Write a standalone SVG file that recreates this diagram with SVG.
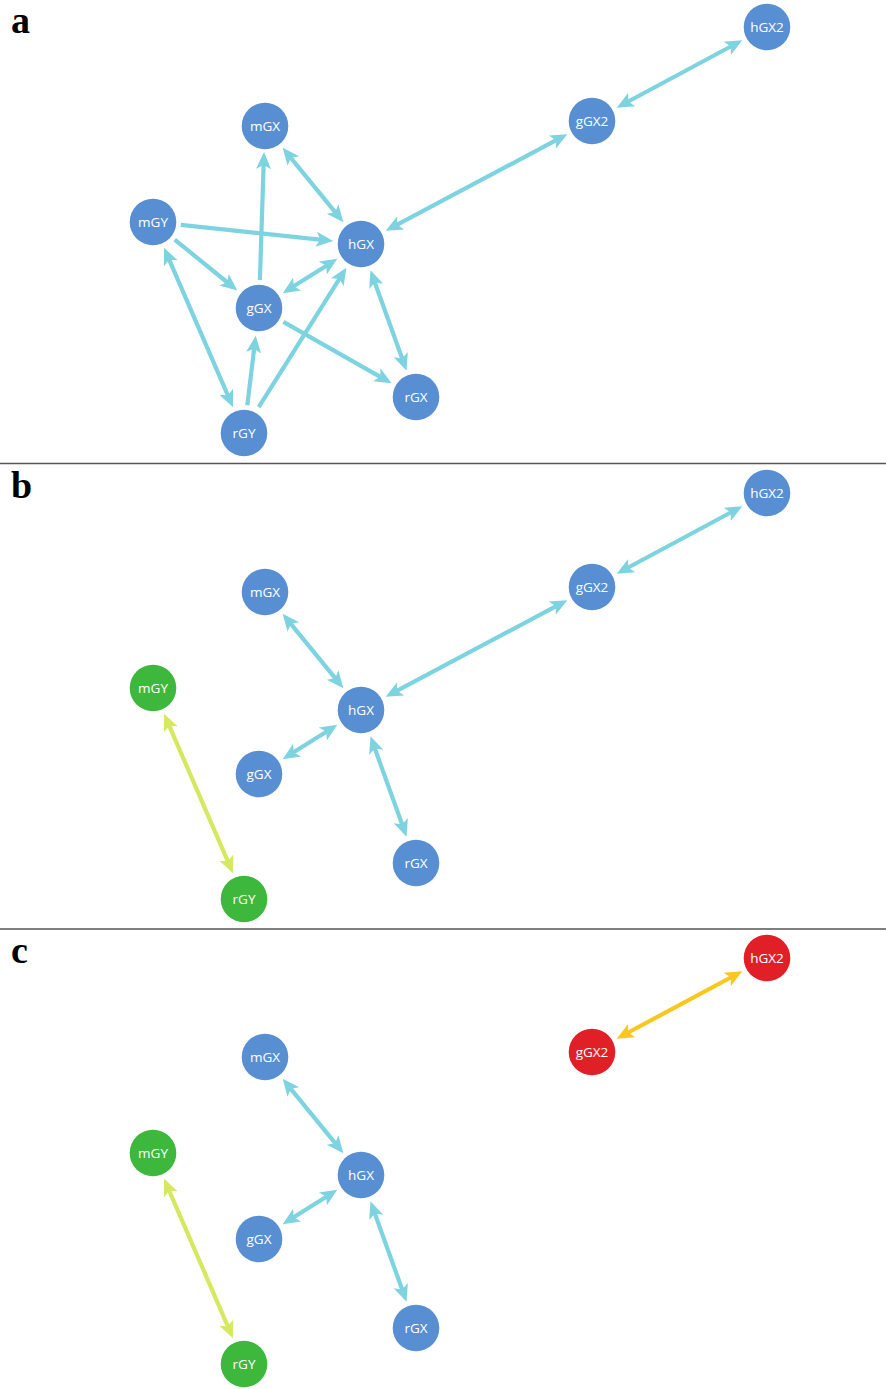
<svg xmlns="http://www.w3.org/2000/svg" width="886" height="1389" viewBox="0 0 886 1389">
<style>
.n circle{stroke:none}
.blue{fill:#588fd3}
.green{fill:#3db83d}
.red{fill:#e01f27}
.n text{fill:#ffffff;font-family:"Open Sans","Noto Sans",sans-serif;font-size:13.5px;text-anchor:middle}
.e line{stroke-width:4.2;fill:none}
.cy line{stroke:#7dd3e0}
.li line{stroke:#d5e860}
.ye line{stroke:#f8c81e}
.panel{font-family:"Liberation Serif","Times New Roman",serif;font-weight:bold;font-size:38px;fill:#000}
.div{stroke:#555;stroke-width:1.5}
</style>
<defs>
<marker id="ac" markerUnits="userSpaceOnUse" markerWidth="22" markerHeight="18" viewBox="0 -9 22 18" refX="6" refY="0" orient="auto-start-reverse"><path d="M17,0 L0,-7.5 L4,0 L0,7.5 Z" fill="#7dd3e0"/></marker>
<marker id="al" markerUnits="userSpaceOnUse" markerWidth="22" markerHeight="18" viewBox="0 -9 22 18" refX="6" refY="0" orient="auto-start-reverse"><path d="M17,0 L0,-7.5 L4,0 L0,7.5 Z" fill="#d5e860"/></marker>
<marker id="ay" markerUnits="userSpaceOnUse" markerWidth="22" markerHeight="18" viewBox="0 -9 22 18" refX="6" refY="0" orient="auto-start-reverse"><path d="M17,0 L0,-7.5 L4,0 L0,7.5 Z" fill="#f8c81e"/></marker>
</defs>
<rect x="0" y="0" width="886" height="1389" fill="#ffffff"/>
<line class="div" x1="0" y1="463.5" x2="886" y2="463.5"/>
<line class="div" x1="0" y1="929" x2="886" y2="929"/>
<text class="panel" x="11" y="33">a</text>
<text class="panel" x="11" y="498">b</text>
<text class="panel" x="11" y="963">c</text>

<g id="connectors-a" class="e cy">
<line x1="626.4" y1="102.5" x2="732.6" y2="45.5" marker-start="url(#ac)" marker-end="url(#ac)"/>
<line x1="395.4" y1="225.6" x2="557.6" y2="139.4" marker-start="url(#ac)" marker-end="url(#ac)"/>
<line x1="289.6" y1="156.3" x2="336.4" y2="213.7" marker-start="url(#ac)" marker-end="url(#ac)"/>
<line x1="180.8" y1="224.9" x2="322.2" y2="239.9" marker-end="url(#ac)"/>
<line x1="174.7" y1="239.6" x2="228.7" y2="283.5" marker-end="url(#ac)"/>
<line x1="168.4" y1="257.8" x2="228.6" y2="397.2" marker-start="url(#ac)" marker-end="url(#ac)"/>
<line x1="259.9" y1="280" x2="263.7" y2="163" marker-end="url(#ac)"/>
<line x1="292" y1="287.3" x2="328" y2="264.7" marker-start="url(#ac)" marker-end="url(#ac)"/>
<line x1="283.4" y1="321.8" x2="382" y2="377.8" marker-end="url(#ac)"/>
<line x1="247.3" y1="405.2" x2="254.4" y2="346.7" marker-end="url(#ac)"/>
<line x1="258.7" y1="407.2" x2="340.5" y2="277.1" marker-end="url(#ac)"/>
<line x1="374.2" y1="280.7" x2="402.8" y2="360.3" marker-start="url(#ac)" marker-end="url(#ac)"/>
</g>
<g id="connectors-b" transform="translate(0,466)">
<g class="e cy">
<line x1="626.4" y1="102.5" x2="732.6" y2="45.5" marker-start="url(#ac)" marker-end="url(#ac)"/>
<line x1="395.4" y1="225.6" x2="557.6" y2="139.4" marker-start="url(#ac)" marker-end="url(#ac)"/>
<line x1="289.6" y1="156.3" x2="336.4" y2="213.7" marker-start="url(#ac)" marker-end="url(#ac)"/>
<line x1="292" y1="287.3" x2="328" y2="264.7" marker-start="url(#ac)" marker-end="url(#ac)"/>
<line x1="374.2" y1="280.7" x2="402.8" y2="360.3" marker-start="url(#ac)" marker-end="url(#ac)"/>
</g>
<g class="e li">
<line x1="168.4" y1="257.8" x2="228.6" y2="397.2" marker-start="url(#al)" marker-end="url(#al)"/>
</g>
</g>
<g id="connectors-c" transform="translate(0,931)">
<g class="e ye">
<line x1="626.4" y1="102.5" x2="732.6" y2="45.5" marker-start="url(#ay)" marker-end="url(#ay)"/>
</g>
<g class="e cy">
<line x1="289.6" y1="156.3" x2="336.4" y2="213.7" marker-start="url(#ac)" marker-end="url(#ac)"/>
<line x1="292" y1="287.3" x2="328" y2="264.7" marker-start="url(#ac)" marker-end="url(#ac)"/>
<line x1="374.2" y1="280.7" x2="402.8" y2="360.3" marker-start="url(#ac)" marker-end="url(#ac)"/>
</g>
<g class="e li">
<line x1="168.4" y1="257.8" x2="228.6" y2="397.2" marker-start="url(#al)" marker-end="url(#al)"/>
</g>
</g>

<g id="nodes-a">
<g id="a-hGX2" class="n"><circle class="blue" cx="767" cy="27" r="23.3"/><text x="767" y="31.8">hGX2</text></g>
<g id="a-gGX2" class="n"><circle class="blue" cx="592" cy="121" r="23.3"/><text x="592" y="125.8">gGX2</text></g>
<g id="a-mGX" class="n"><circle class="blue" cx="265" cy="126" r="23.3"/><text x="265" y="130.8">mGX</text></g>
<g id="a-mGY" class="n"><circle class="blue" cx="153" cy="222" r="23.3"/><text x="153" y="226.8">mGY</text></g>
<g id="a-hGX" class="n"><circle class="blue" cx="361" cy="244" r="23.3"/><text x="361" y="248.8">hGX</text></g>
<g id="a-gGX" class="n"><circle class="blue" cx="259" cy="308" r="23.3"/><text x="259" y="312.8">gGX</text></g>
<g id="a-rGX" class="n"><circle class="blue" cx="416" cy="397" r="23.3"/><text x="416" y="401.8">rGX</text></g>
<g id="a-rGY" class="n"><circle class="blue" cx="244" cy="433" r="23.3"/><text x="244" y="437.8">rGY</text></g>
</g>
<g id="nodes-b" transform="translate(0,466)">
<g id="b-hGX2" class="n"><circle class="blue" cx="767" cy="27" r="23.3"/><text x="767" y="31.8">hGX2</text></g>
<g id="b-gGX2" class="n"><circle class="blue" cx="592" cy="121" r="23.3"/><text x="592" y="125.8">gGX2</text></g>
<g id="b-mGX" class="n"><circle class="blue" cx="265" cy="126" r="23.3"/><text x="265" y="130.8">mGX</text></g>
<g id="b-mGY" class="n"><circle class="green" cx="153" cy="222" r="23.3"/><text x="153" y="226.8">mGY</text></g>
<g id="b-hGX" class="n"><circle class="blue" cx="361" cy="244" r="23.3"/><text x="361" y="248.8">hGX</text></g>
<g id="b-gGX" class="n"><circle class="blue" cx="259" cy="308" r="23.3"/><text x="259" y="312.8">gGX</text></g>
<g id="b-rGX" class="n"><circle class="blue" cx="416" cy="397" r="23.3"/><text x="416" y="401.8">rGX</text></g>
<g id="b-rGY" class="n"><circle class="green" cx="244" cy="433" r="23.3"/><text x="244" y="437.8">rGY</text></g>
</g>
<g id="nodes-c" transform="translate(0,931)">
<g id="c-hGX2" class="n"><circle class="red" cx="767" cy="27" r="23.3"/><text x="767" y="31.8">hGX2</text></g>
<g id="c-gGX2" class="n"><circle class="red" cx="592" cy="121" r="23.3"/><text x="592" y="125.8">gGX2</text></g>
<g id="c-mGX" class="n"><circle class="blue" cx="265" cy="126" r="23.3"/><text x="265" y="130.8">mGX</text></g>
<g id="c-mGY" class="n"><circle class="green" cx="153" cy="222" r="23.3"/><text x="153" y="226.8">mGY</text></g>
<g id="c-hGX" class="n"><circle class="blue" cx="361" cy="244" r="23.3"/><text x="361" y="248.8">hGX</text></g>
<g id="c-gGX" class="n"><circle class="blue" cx="259" cy="308" r="23.3"/><text x="259" y="312.8">gGX</text></g>
<g id="c-rGX" class="n"><circle class="blue" cx="416" cy="397" r="23.3"/><text x="416" y="401.8">rGX</text></g>
<g id="c-rGY" class="n"><circle class="green" cx="244" cy="433" r="23.3"/><text x="244" y="437.8">rGY</text></g>
</g>
</svg>
